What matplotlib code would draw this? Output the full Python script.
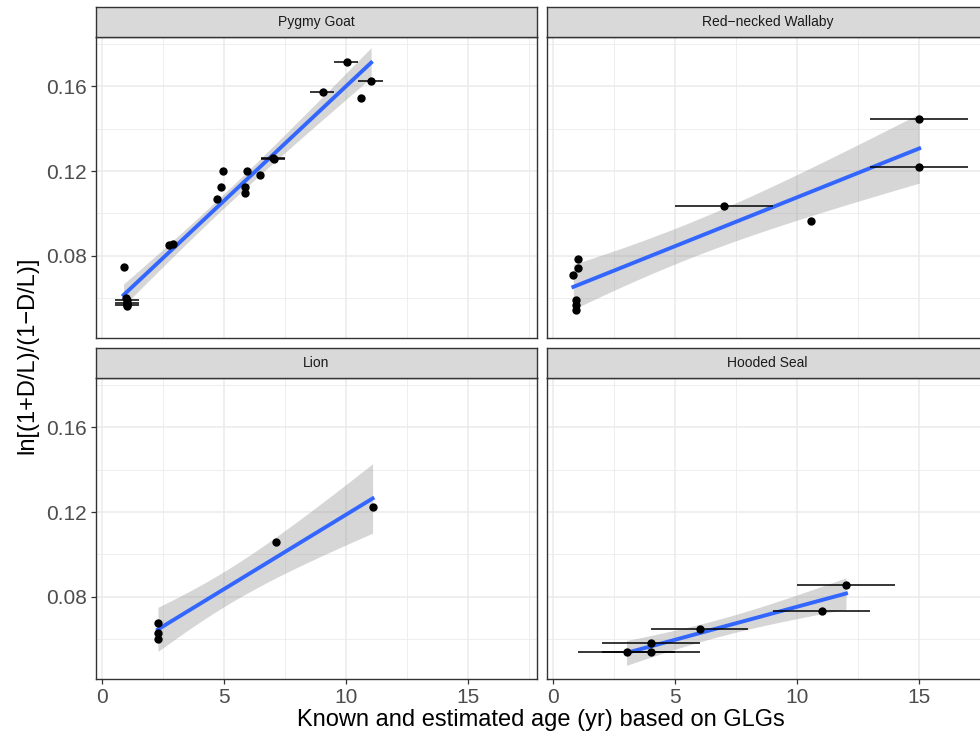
import math
import numpy as np
import matplotlib
matplotlib.use('Agg')
import matplotlib.pyplot as plt

plt.rcParams['font.family'] = ['Liberation Sans', 'DejaVu Sans']

# ---- data ----
goat_x = [0.87, 0.97, 1.0, 1.02, 1.0, 1.0, 1.0, 2.73, 2.91, 4.70, 4.86, 4.94, 5.93, 5.86, 5.86, 6.45, 7.0, 7.05, 9.03, 10.02, 10.60, 11.02]
goat_y = [0.0746, 0.0600, 0.0591, 0.0578, 0.0565, 0.0570, 0.0560, 0.0849, 0.0856, 0.1069, 0.1124, 0.1198, 0.1198, 0.1124, 0.1097, 0.1182, 0.1262, 0.1256, 0.1576, 0.1718, 0.1545, 0.1624]
goat_xmin = [np.nan, np.nan, 0.5, 0.5, 0.5, np.nan, np.nan, np.nan, np.nan, np.nan, np.nan, np.nan, np.nan, np.nan, np.nan, np.nan, 6.5, 6.5, 8.5, 9.5, np.nan, 10.5]
goat_xmax = [np.nan, np.nan, 1.5, 1.5, 1.5, np.nan, np.nan, np.nan, np.nan, np.nan, np.nan, np.nan, np.nan, np.nan, np.nan, np.nan, 7.5, 7.5, 9.5, 10.5, np.nan, 11.5]

wallaby_x = [1.0, 1.0, 0.82, 0.91, 0.91, 0.91, 7.0, 10.56, 15.0, 15.0]
wallaby_y = [0.0782, 0.0740, 0.0710, 0.0590, 0.0565, 0.0545, 0.1037, 0.0962, 0.1446, 0.1220]
wallaby_xmin = [np.nan, np.nan, np.nan, np.nan, np.nan, np.nan, 5.0, np.nan, 13.0, 13.0]
wallaby_xmax = [np.nan, np.nan, np.nan, np.nan, np.nan, np.nan, 9.0, np.nan, 17.0, 17.0]

lion_x = [2.28, 2.28, 2.28, 7.10, 11.08]
lion_y = [0.0674, 0.0628, 0.0600, 0.1058, 0.1224]
lion_xmin = [np.nan] * 5
lion_xmax = [np.nan] * 5

seal_x = [3.0, 4.0, 4.0, 6.0, 11.0, 12.0]
seal_y = [0.0537, 0.0579, 0.0540, 0.0647, 0.0734, 0.0854]
seal_xmin = [1.0, 2.0, 2.0, 4.0, 9.0, 10.0]
seal_xmax = [5.0, 6.0, 6.0, 8.0, 13.0, 14.0]

panels = [
    ('Pygmy Goat', goat_x, goat_y, goat_xmin, goat_xmax),
    ('Red\u2212necked Wallaby', wallaby_x, wallaby_y, wallaby_xmin, wallaby_xmax),
    ('Lion', lion_x, lion_y, lion_xmin, lion_xmax),
    ('Hooded Seal', seal_x, seal_y, seal_xmin, seal_xmax),
]


def t_quantile(p, df):
    # t critical value, scipy if it is there
    try:
        from scipy import stats
        return stats.t.ppf(p, df)
    except ImportError:
        c = math.gamma((df + 1) / 2) / (math.sqrt(df * math.pi) * math.gamma(df / 2))
        t = np.linspace(0, 40, 400001)
        pdf = c * (1 + t ** 2 / df) ** (-(df + 1) / 2)
        cdf = 0.5 + np.concatenate([[0], np.cumsum((pdf[1:] + pdf[:-1]) / 2 * np.diff(t))])
        return float(np.interp(p, cdf, t))


def lm_band(x, y, n_out=80):
    x = np.asarray(x)
    y = np.asarray(y)
    n = len(x)
    b, a = np.polyfit(x, y, 1)
    resid = y - (a + b * x)
    s = np.sqrt(np.sum(resid ** 2) / (n - 2))
    sxx = np.sum((x - x.mean()) ** 2)
    xs = np.linspace(x.min(), x.max(), n_out)
    fit = a + b * xs
    se = s * np.sqrt(1.0 / n + (xs - x.mean()) ** 2 / sxx)
    tq = t_quantile(0.975, n - 2)
    return xs, fit, fit - tq * se, fit + tq * se


W, H = 980, 738
fig = plt.figure(figsize=(W / 100, H / 100), dpi=100)

# panel boxes in pixels (left, top)
pw, ph, sh = 441, 300.5, 30
boxes = [(96, 37), (547, 37), (96, 378), (547, 378)]

xlim = (-0.26, 17.82)
ylim = (0.0413, 0.1834)

for i, (name, px, py, xmn, xmx) in enumerate(panels):
    left, top = boxes[i]
    ax = fig.add_axes([left / W, (H - top - ph) / H, pw / W, ph / H])
    ax.set_xlim(*xlim)
    ax.set_ylim(*ylim)
    ax.set_xticks([0, 5, 10, 15])
    ax.set_xticks([2.5, 7.5, 12.5, 17.5], minor=True)
    ax.set_yticks([0.08, 0.12, 0.16])
    ax.set_yticks([0.06, 0.10, 0.14, 0.18], minor=True)
    ax.grid(which='major', color='#EBEBEB', lw=1.1)
    ax.grid(which='minor', color='#EBEBEB', lw=0.6)
    ax.set_axisbelow(True)
    for sp in ax.spines.values():
        sp.set_color('#333333')
        sp.set_linewidth(1.0)
    ax.tick_params(which='minor', length=0)
    ax.tick_params(which='major', length=3.5, width=0.9, color='#333333',
                   labelsize=15, labelcolor='#4D4D4D', pad=3)
    if i < 2:
        ax.tick_params(axis='x', which='major', length=0, labelbottom=False)
    else:
        ax.set_xticklabels(['0', '5', '10', '15'])
    if i % 2 == 1:
        ax.tick_params(axis='y', which='major', length=0, labelleft=False)
    else:
        ax.set_yticklabels(['0.08', '0.12', '0.16'])

    xs, fit, lo, hi = lm_band(px, py)
    ax.fill_between(xs, lo, hi, color='#999999', alpha=0.4, lw=0, zorder=2)
    ax.plot(xs, fit, color='#3366FF', lw=2.8, zorder=3)

    xmn = np.asarray(xmn)
    xmx = np.asarray(xmx)
    ok = ~np.isnan(xmn)
    ax.hlines(np.asarray(py)[ok], xmn[ok], xmx[ok], color='black', lw=1.1, zorder=4)
    ax.scatter(px, py, s=36, color='black', lw=0, zorder=5)

    # facet strip
    sax = fig.add_axes([left / W, (H - top) / H, pw / W, sh / H])
    sax.set_facecolor('#D9D9D9')
    sax.set_xticks([])
    sax.set_yticks([])
    for sp in sax.spines.values():
        sp.set_color('#333333')
        sp.set_linewidth(1.0)
    sax.text(0.5, 0.5, name, ha='center', va='center', fontsize=10,
             color='#1A1A1A', transform=sax.transAxes)

fig.text(27 / W, 1 - 355 / H, 'ln[(1+D/L)/(1\u2212D/L)]', rotation=90,
         ha='center', va='center', fontsize=17)
fig.text(541 / W, 18 / H, 'Known and estimated age (yr) based on GLGs',
         ha='center', va='center', fontsize=17)

fig.savefig('out.png', dpi=100)
